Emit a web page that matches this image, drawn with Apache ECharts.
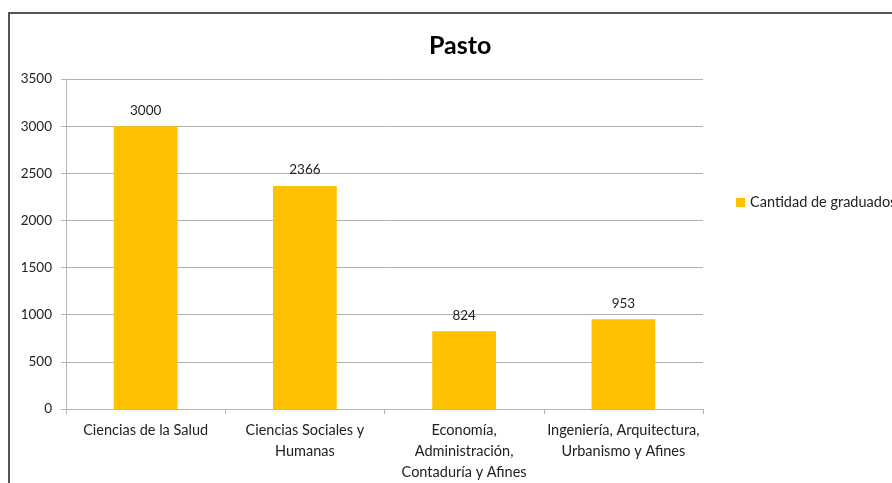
<!DOCTYPE html>
<html><head><meta charset="utf-8">
<script src="https://cdn.jsdelivr.net/npm/echarts@6/dist/echarts.min.js"></script>
<style>
html,body{margin:0;padding:0;background:#fff;overflow:hidden;}
#frame{position:absolute;left:8px;top:12px;width:1000px;height:600px;border:2px solid #555;box-sizing:border-box;}
#c{position:absolute;left:0;top:0;width:892px;height:483px;}
</style></head>
<body>
<div id="frame"></div>
<div id="c"></div>
<script>
const chartTitle = "Pasto";
const seriesName = "Cantidad de graduados";
const categories = ["Ciencias de la Salud", "Ciencias Sociales y\nHumanas", "Economía,\nAdministración,\nContaduría y Afines", "Ingeniería, Arquitectura,\nUrbanismo y Afines"];
const values = [3000, 2366, 824, 953];
const yTicks = {min: 0, max: 3500, interval: 500};

const font = "Lato, 'Open Sans', sans-serif";
const chart = echarts.init(document.getElementById('c'));
chart.setOption({
  animation: false,
  title: {text: chartTitle, left: 424, top: 28, textStyle: {fontFamily: font, fontSize: 25, fontWeight: 'bold', color: '#000'}},
  legend: {data: [seriesName], left: 731, top: 190, itemWidth: 9, itemHeight: 9, itemGap: 4,
    textStyle: {fontFamily: font, fontSize: 14.5, color: '#222'}, icon: 'rect'},
  grid: {left: 66, right: 189, top: 79, bottom: 72, containLabel: false},
  xAxis: {type: 'category', data: categories,
    axisLine: {lineStyle: {color: '#b5b5b5', width: 1}},
    axisTick: {show: true, alignWithLabel: false, length: 5, lineStyle: {color: '#b5b5b5'}},
    axisLabel: {interval: 0, fontFamily: font, fontSize: 14.5, color: '#222', lineHeight: 21, margin: 11}},
  yAxis: {type: 'value', min: yTicks.min, max: yTicks.max, interval: yTicks.interval,
    axisLine: {show: true, lineStyle: {color: '#b5b5b5'}},
    axisTick: {show: true, length: 5, lineStyle: {color: '#b5b5b5'}},
    splitLine: {lineStyle: {color: '#b0b0b0', width: 1}},
    axisLabel: {fontFamily: font, fontSize: 13.5, color: '#222', margin: 14, formatter: v => String(v)}},
  series: [{name: seriesName, type: 'bar', data: values, barWidth: '40%',
    itemStyle: {color: '#FFC000'},
    label: {show: true, position: 'top', distance: 9, fontFamily: font, fontSize: 13.5, color: '#222'}}]
});
</script>
</body></html>
